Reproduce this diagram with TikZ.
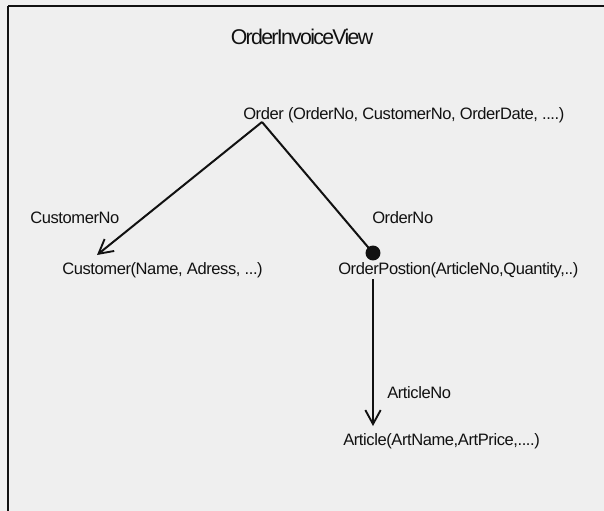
\documentclass[tikz,border=0pt]{standalone}
\usepackage{fontspec}
\setmainfont{Liberation Sans}
\newfontfamily\tightsans[LetterSpace=-2.5]{Liberation Sans}
\newfontfamily\titlesans[LetterSpace=-8]{Liberation Sans}
\usetikzlibrary{arrows.meta}
\definecolor{panel}{HTML}{EFEFEF}
\definecolor{ink}{HTML}{111111}
\begin{document}
\begin{tikzpicture}[x=0.75pt,y=-0.75pt,
  lbl/.style={anchor=base west,inner sep=0pt,font=\tightsans\fontsize{12.4}{15}\selectfont,text=ink},
  link/.style={draw=ink,line width=1.5pt},
  openhead/.style={-{Straight Barb[length=10.5pt,width=11.5pt,line width=1.4pt]}},
  frameline/.style={draw=ink,line width=1.6pt}]
  % canvas
  \fill[panel] (0,0) rectangle (604,511);
  \useasboundingbox (0,0) rectangle (604,511);
  % window frame (top and left edges)
  \draw[frameline] (8,6) -- (604,6);
  \draw[frameline] (8,6) -- (8,511);
  % title
  \node[anchor=base,inner sep=0pt,font=\titlesans\fontsize{16}{19}\selectfont,text=ink] (title) at (302,44) {OrderInvoiceView};
  % tables
  \node[lbl] (order) at (243,119) {Order (OrderNo, CustomerNo, OrderDate, ....)};
  \node[lbl] (customer) at (62,274) {Customer(Name, Adress, ...)};
  \node[lbl] (orderpos) at (338,274) {OrderPostion(ArticleNo,Quantity,..)};
  \node[lbl] (article) at (343,445) {Article(ArtName,ArtPrice,....)};
  % key labels
  \node[lbl] (kcust) at (30,223) {CustomerNo};
  \node[lbl] (kord) at (372,223) {OrderNo};
  \node[lbl] (kart) at (387,398) {ArticleNo};
  % connector end points
  \coordinate (apex) at (262,122);
  \coordinate (custtip) at (97,255);
  \coordinate (dot) at (373,253);
  \coordinate (postop) at (373,279);
  \coordinate (arttip) at (373,426);
  % connectors
  \draw[link,openhead] (apex) -- (custtip);
  \draw[link] (apex) -- (dot);
  \fill[ink] (dot) circle (5.6pt);
  \draw[link,openhead] (postop) -- (arttip);
\end{tikzpicture}
\end{document}
